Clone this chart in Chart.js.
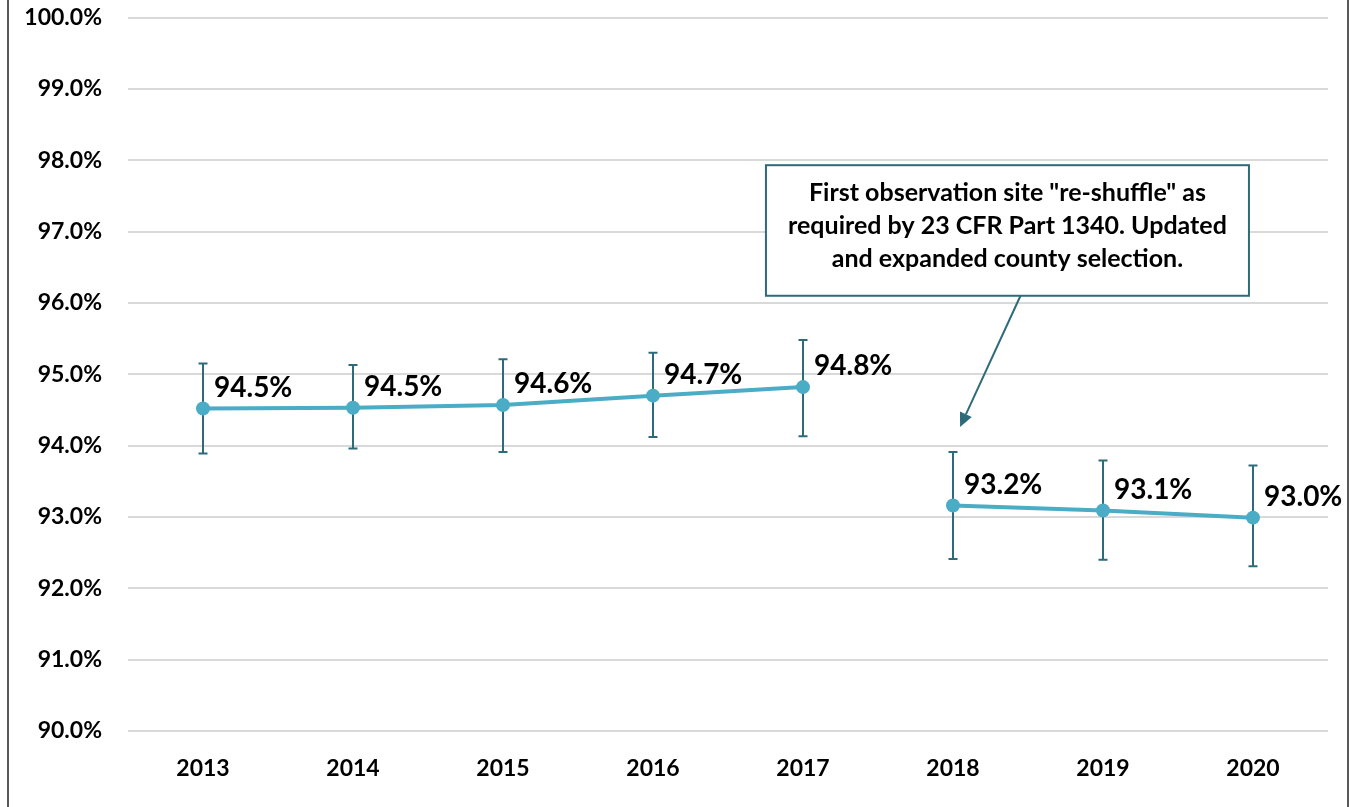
<!DOCTYPE html>
<html>
<head>
<meta charset="utf-8">
<script src="https://cdn.jsdelivr.net/npm/chart.js@4.4.1/dist/chart.umd.min.js"></script>
<style>
  html, body { margin: 0; padding: 0; background: #ffffff; }
  #wrap { position: relative; width: 1354px; height: 807px; }
  canvas { display: block; }
</style>
</head>
<body>
<div id="wrap"><canvas id="c" width="1354" height="807"></canvas></div>
<script>
// ---- data ----
const years = ['2013', '2014', '2015', '2016', '2017', '2018', '2019', '2020'];
const rates = [94.52, 94.53, 94.57, 94.70, 94.82, 93.16, 93.09, 92.99];
const errHigh = [95.15, 95.13, 95.21, 95.30, 95.48, 93.91, 93.79, 93.72];
const errLow  = [93.89, 93.96, 93.91, 94.12, 94.13, 92.41, 92.40, 92.31];
const breakAfterIndex = 4; // line is broken between 2017 and 2018
const noteLines = [
  'First observation site "re-shuffle" as',
  'required by 23 CFR Part 1340. Updated',
  'and expanded county selection.'
];

// ---- styles ----
const FONT = 'Lato, "Open Sans", "Noto Sans", sans-serif';
const LINE_COLOR = '#4BACC6';
const DARK_TEAL = '#2E6B7A';
const GRID = '#D9D9D9';

// annotation placed in scale units (category index, percent value)
const note = { x0: 3.753, x1: 6.973, yTop: 97.93, yBot: 96.10,
               arrowFrom: [5.45, 96.10], arrowTo: [5.047, 94.26] };

const errorBarPlugin = {
  id: 'errorBars',
  beforeDatasetsDraw(chart) {
    const { ctx, scales: { x, y } } = chart;
    ctx.save();
    ctx.strokeStyle = DARK_TEAL;
    ctx.lineWidth = 2;
    for (let i = 0; i < years.length; i++) {
      const px = x.getPixelForValue(i);
      const yh = y.getPixelForValue(errHigh[i]);
      const yl = y.getPixelForValue(errLow[i]);
      ctx.beginPath();
      ctx.moveTo(px, yh); ctx.lineTo(px, yl);
      ctx.moveTo(px - 4.5, yh); ctx.lineTo(px + 4.5, yh);
      ctx.moveTo(px - 4.5, yl); ctx.lineTo(px + 4.5, yl);
      ctx.stroke();
    }
    ctx.restore();
  }
};

const labelPlugin = {
  id: 'valueLabels',
  afterDatasetsDraw(chart) {
    const { ctx } = chart;
    const meta = chart.getDatasetMeta(0);
    ctx.save();
    ctx.font = 'bold 28px ' + FONT;
    ctx.fillStyle = '#000000';
    ctx.textAlign = 'left';
    ctx.textBaseline = 'middle';
    meta.data.forEach((pt, i) => {
      ctx.fillText(rates[i].toFixed(1) + '%', pt.x + 11, pt.y - 21);
    });
    ctx.restore();
  }
};

const notePlugin = {
  id: 'note',
  afterDraw(chart) {
    const { ctx, scales: { x, y } } = chart;
    const l = x.getPixelForValue(note.x0), r = x.getPixelForValue(note.x1);
    const t = y.getPixelForValue(note.yTop), b = y.getPixelForValue(note.yBot);
    ctx.save();
    ctx.fillStyle = '#ffffff';
    ctx.fillRect(l, t, r - l, b - t);
    ctx.strokeStyle = DARK_TEAL;
    ctx.lineWidth = 2;
    ctx.strokeRect(l, t, r - l, b - t);
    ctx.fillStyle = '#000000';
    ctx.font = 'bold 25px ' + FONT;
    ctx.textAlign = 'center';
    ctx.textBaseline = 'middle';
    const cx = (l + r) / 2;
    const lh = 33;
    const startY = (t + b) / 2 - lh * (noteLines.length - 1) / 2 - 5;
    noteLines.forEach((s, i) => ctx.fillText(s, cx, startY + i * lh));
    // arrow
    const ax = x.getPixelForValue(note.arrowFrom[0]), ay = y.getPixelForValue(note.arrowFrom[1]);
    const bx = x.getPixelForValue(note.arrowTo[0]), by = y.getPixelForValue(note.arrowTo[1]);
    const ang = Math.atan2(by - ay, bx - ax);
    const hl = 14, hw = 6.5;
    const baseX = bx - hl * Math.cos(ang), baseY = by - hl * Math.sin(ang);
    ctx.strokeStyle = DARK_TEAL;
    ctx.lineWidth = 2;
    ctx.beginPath(); ctx.moveTo(ax, ay); ctx.lineTo(baseX, baseY); ctx.stroke();
    ctx.fillStyle = DARK_TEAL;
    ctx.beginPath();
    ctx.moveTo(bx, by);
    ctx.lineTo(baseX + hw * Math.sin(ang), baseY - hw * Math.cos(ang));
    ctx.lineTo(baseX - hw * Math.sin(ang), baseY + hw * Math.cos(ang));
    ctx.closePath(); ctx.fill();
    // outer frame edges
    ctx.strokeStyle = '#595959';
    ctx.lineWidth = 2;
    ctx.beginPath();
    ctx.moveTo(8, 0); ctx.lineTo(8, chart.height);
    ctx.moveTo(1348, 0); ctx.lineTo(1348, chart.height);
    ctx.stroke();
    ctx.restore();
  }
};

new Chart(document.getElementById('c'), {
  type: 'line',
  data: {
    labels: years,
    datasets: [{
      data: rates,
      borderColor: LINE_COLOR,
      backgroundColor: LINE_COLOR,
      borderWidth: 4,
      pointRadius: 7,
      pointBackgroundColor: LINE_COLOR,
      pointBorderColor: LINE_COLOR,
      pointBorderWidth: 0,
      tension: 0,
      segment: {
        borderColor: c => c.p0DataIndex === breakAfterIndex ? 'rgba(0,0,0,0)' : LINE_COLOR
      }
    }]
  },
  options: {
    responsive: false,
    animation: false,
    devicePixelRatio: 1,
    layout: { padding: { top: 17.5, right: 26, bottom: 0, left: 0 } },
    plugins: { legend: { display: false }, tooltip: { enabled: false } },
    scales: {
      x: {
        offset: true,
        grid: { display: false, drawTicks: false },
        border: { display: false },
        ticks: { color: '#000', font: { family: FONT, size: 23, weight: 'bold' }, padding: 24, maxRotation: 0 },
        afterFit: s => { s.height = 76; s.paddingLeft = 0; s.paddingRight = 0; }
      },
      y: {
        min: 90, max: 100,
        grid: { color: GRID, lineWidth: 2, drawTicks: false },
        border: { display: false },
        ticks: {
          stepSize: 1, color: '#000', padding: 26,
          font: { family: FONT, size: 23, weight: 'bold' },
          callback: v => v.toFixed(1) + '%'
        },
        afterFit: s => { s.width = 128; s.paddingTop = 0; s.paddingBottom = 0; }
      }
    }
  },
  plugins: [errorBarPlugin, labelPlugin, notePlugin]
});
</script>
</body>
</html>
